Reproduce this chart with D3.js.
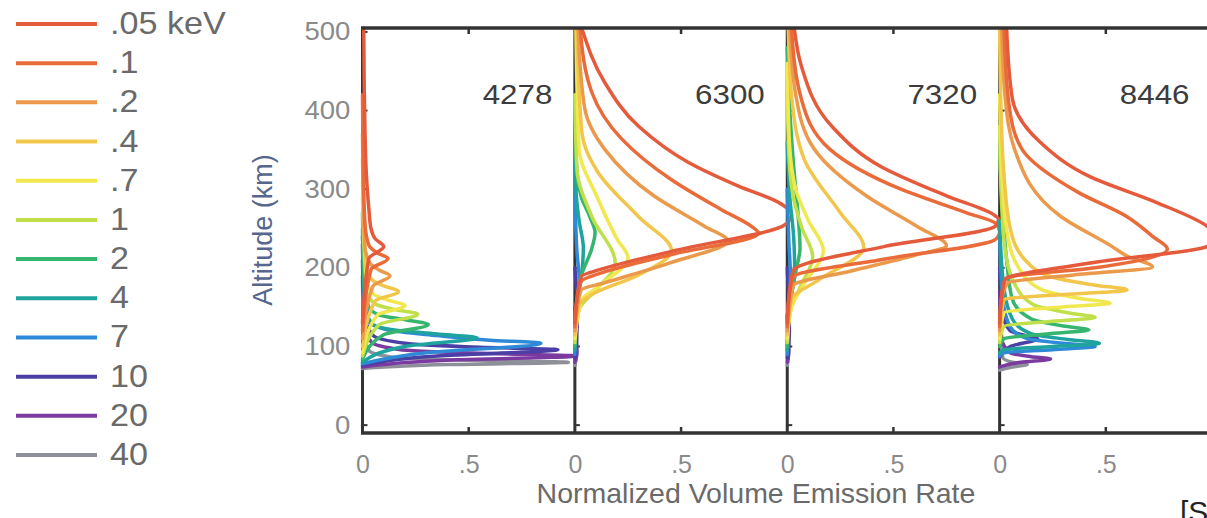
<!DOCTYPE html>
<html>
<head>
<meta charset="utf-8">
<script src="https://cdn.jsdelivr.net/npm/d3@7"></script>
<style>
  html, body { margin: 0; padding: 0; background: #fff; }
  svg { display: block; font-family: "Liberation Sans", Arial, sans-serif; }
</style>
</head>
<body>
<svg id="graphArea" width="1207" height="518"></svg>
<script>
/*
 * emission profiles
 */

// energies (legend labels) and colours
const energies = [".05 keV", ".1", ".2", ".4", ".7", "1", "2", "4", "7", "10", "20", "40"];
const energyColors = ["#e45a3b", "#ea6b3a", "#eb9a4c", "#f1c64b", "#f0e84e", "#bfe04a",
                      "#35b56e", "#1fa39e", "#2e8ad6", "#4b3fa6", "#7b3aa0", "#8e9099"];

// panels (wavelength, A)
const panelNames = ["4278", "6300", "7320", "8446"];

// tick labels
const altTicks = [0, 100, 200, 300, 400, 500];
const rateTicks = [0, 0.5];
const rateTickLabels = ["0", ".5"];

// [normalized rate, altitude km], bottom to top, one curve per energy
const profiles4278 = [
  [[0,130],[0.03,212],[0.1,227],[0.06,237],[0.04,250],[0.03,275],[0.018,320],[0.01,400],[0.006,505]],
  [[0,120],[0.04,198],[0.12,212],[0.07,219],[0.03,229],[0.012,255],[0.003,330],[0,420]],
  [[0,110],[0.05,177],[0.13,190],[0.08,197],[0.035,206],[0.01,230],[0,370]],
  [[0,100],[0.06,158],[0.17,170],[0.1,177],[0.04,186],[0.015,205],[0,340]],
  [[0,92],[0.07,140],[0.2,152],[0.12,159],[0.05,167],[0.02,185],[0,310]],
  [[0,88],[0.08,128],[0.26,141],[0.15,147],[0.06,154],[0.02,170],[0,290]],
  [[0,84],[0.1,115],[0.31,128],[0.2,134],[0.08,140],[0.03,150],[0.01,175],[0,270]],
  [[0,80],[0.2,100],[0.54,111],[0.35,116],[0.15,121],[0.05,128],[0.01,150],[0,250]],
  [[0,78],[0.3,92],[0.84,104],[0.6,108],[0.35,114],[0.12,121],[0.03,132],[0,240]],
  [[0,76],[0.35,88],[0.92,96],[0.55,99],[0.2,104],[0.05,114],[0.01,140],[0,230]],
  [[0,74],[0.35,82],[1.0,88],[0.6,91],[0.18,96],[0.04,106],[0.01,130],[0,210]],
  [[0,72],[0.4,77],[0.97,80],[0.6,82],[0.15,86],[0.03,95],[0.005,120],[0,190]]
];

const profiles6300 = [
  [[0,130],[0.01,160],[0.03,189],[0.12,198],[0.455,221],[0.99,255],[1.02,268],[0.96,283],[0.77,304],[0.535,334],[0.30,380],[0.14,436],[0.033,504]],
  [[0,125],[0.01,160],[0.03,183],[0.13,194],[0.455,217],[0.865,244],[0.83,253],[0.69,274],[0.455,312],[0.22,364],[0.08,423],[0.025,504]],
  [[0,120],[0.01,147],[0.03,172],[0.14,181],[0.455,207],[0.72,234],[0.61,253],[0.375,291],[0.14,351],[0.047,402],[0.015,504]],
  [[0,115],[0.02,153],[0.08,166],[0.30,191],[0.455,222],[0.30,265],[0.11,321],[0.033,372],[0.01,504]],
  [[0,110],[0.03,158],[0.12,178],[0.25,213],[0.2,236],[0.11,287],[0.02,351],[0.005,504]],
  [[0,105],[0.02,147],[0.1,172],[0.19,206],[0.08,265],[0.01,325],[0,420]],
  [[0,100],[0.01,150],[0.03,190],[0.08,225],[0.095,245],[0.07,265],[0.03,290],[0.01,320],[0,400]],
  [[0,95],[0.01,150],[0.035,200],[0.04,225],[0.02,260],[0.005,300],[0,380]],
  [[0,90],[0.01,160],[0.02,185],[0.01,220],[0,300]],
  [[0,85],[0.008,110],[0.012,140],[0,200]],
  [[0,80],[0.01,92],[0.008,110],[0,150]],
  [[0,76],[0.006,85],[0,120]]
];

const profiles7320 = [
  [[0,130],[0.01,170],[0.03,197],[0.455,227],[0.98,253],[0.995,262],[0.97,268],[0.756,291],[0.44,329],[0.21,380],[0.066,457],[0.033,504]],
  [[0,125],[0.01,165],[0.03,189],[0.455,211],[0.98,236],[1.0,246],[0.985,256],[0.845,270],[0.535,300],[0.2,351],[0.066,415],[0.02,504]],
  [[0,120],[0.01,150],[0.03,178],[0.3,196],[0.6,216],[0.75,228],[0.61,253],[0.375,291],[0.127,351],[0.04,420],[0.012,504]],
  [[0,115],[0.02,160],[0.15,185],[0.36,226],[0.25,270],[0.08,338],[0.02,420],[0.005,504]],
  [[0,110],[0.02,150],[0.08,180],[0.17,222],[0.1,260],[0.04,300],[0.01,360],[0,460]],
  [[0,105],[0.015,145],[0.06,175],[0.12,214],[0.07,250],[0.025,295],[0.005,360],[0,440]],
  [[0,100],[0.01,150],[0.04,195],[0.06,225],[0.05,270],[0.03,330],[0.012,400],[0,480]],
  [[0,95],[0.01,150],[0.035,195],[0.03,240],[0.012,290],[0,360]],
  [[0,90],[0.01,160],[0.015,190],[0.008,230],[0,300]],
  [[0,85],[0.01,120],[0,200]],
  [[0,80],[0.008,95],[0,140]],
  [[0,76],[0.005,86],[0,110]]
];

const profiles8446 = [
  [[0,130],[0.01,165],[0.024,185],[0.45,207],[0.976,227],[1.02,240],[0.976,253],[0.74,283],[0.425,316],[0.19,360],[0.06,415],[0.033,504]],
  [[0,125],[0.01,165],[0.03,187],[0.45,200],[0.79,224],[0.72,240],[0.6,265],[0.37,296],[0.105,351],[0.047,402],[0.02,504]],
  [[0,120],[0.01,160],[0.04,181],[0.35,191],[0.72,201],[0.6,215],[0.53,227],[0.29,265],[0.07,351],[0.025,420],[0.01,504]],
  [[0,115],[0.02,160],[0.3,166],[0.6,172],[0.45,178],[0.25,188],[0.12,210],[0.05,250],[0.02,320],[0.005,420],[0,504]],
  [[0,110],[0.02,143],[0.28,150],[0.52,155],[0.38,161],[0.2,172],[0.09,200],[0.035,245],[0.012,310],[0,420]],
  [[0,105],[0.02,126],[0.25,132],[0.45,137],[0.32,143],[0.16,153],[0.07,180],[0.025,225],[0.008,290],[0,380]],
  [[0,100],[0.02,110],[0.22,116],[0.42,121],[0.3,126],[0.15,135],[0.06,160],[0.035,205],[0.015,270],[0,350]],
  [[0,92],[0.02,96],[0.25,100],[0.47,104],[0.32,109],[0.15,116],[0.06,135],[0.02,175],[0,260]],
  [[0,88],[0.02,92],[0.25,96],[0.45,100],[0.3,104],[0.13,110],[0.05,125],[0.015,160],[0,240]],
  [[0,86],[0.05,100],[0.18,110],[0.12,114],[0.05,120],[0.015,140],[0,200]],
  [[0,74],[0.1,80],[0.24,84],[0.15,87],[0.05,92],[0.01,110],[0,170]],
  [[0,70],[0.06,74],[0.13,77],[0.06,80],[0.015,86],[0,130]]
];

const panelProfiles = [profiles4278, profiles6300, profiles7320, profiles8446];

class EmissionChart {

  constructor(svgId) {
    this.svg = d3.select(`#${svgId}`);
    this.top = 28;
    this.bottom = 433;
    this.left = 362.5;
    this.right = 1212;

    // altitude scale (frame runs slightly past 0 and 500)
    this.y = d3.scaleLinear().domain([-10, 505]).range([this.bottom, this.top]);

    // one band per panel, each panel has its own 0..1 scale
    this.panel = d3.scaleBand().domain(panelNames).range([this.left, this.right]);

    this.drawEdges();
    this.drawProfiles();
    this.drawFrame();
    this.drawAxes();
    this.drawLegend();
  }

  /* x scale for a panel */
  xScale(name) {
    let x0 = this.panel(name);
    return d3.scaleLinear().domain([0, 1]).range([x0, x0 + this.panel.bandwidth()]);
  }

  /* stretched text (the scan is a bit wide) */
  addText(g, x, y, str, size, color, anchor) {
    return g.append("text")
      .attr("transform", `translate(${x},${y}) scale(1.12,1)`)
      .attr("text-anchor", anchor)
      .attr("font-size", size)
      .attr("fill", color)
      .text(str);
  }

  /* panel left edges and little y ticks */
  drawEdges() {
    let g = this.svg.append("g").attr("class", "edges");
    panelNames.forEach(name => {
      let x0 = this.panel(name);
      g.append("line")
        .attr("x1", x0).attr("x2", x0)
        .attr("y1", this.top).attr("y2", this.bottom)
        .attr("stroke", "#333").attr("stroke-width", 3);
      g.selectAll(null).data(altTicks).enter().append("line")
        .attr("x1", x0).attr("x2", x0 + 5)
        .attr("y1", d => this.y(d)).attr("y2", d => this.y(d))
        .attr("stroke", "#333").attr("stroke-width", 2);
    });
  }

  /* draw all the profile curves */
  drawProfiles() {
    panelNames.forEach((name, p) => {
      let x = this.xScale(name);
      let line = d3.line()
        .x(d => x(d[0]))
        .y(d => this.y(d[1]))
        .curve(d3.curveMonotoneY);
      let g = this.svg.append("g").attr("class", "panel-" + name);
      // high energies first so the low energy curves sit on top
      let order = d3.range(energies.length).reverse();
      g.selectAll("path")
        .data(order)
        .enter()
        .append("path")
        .attr("d", i => line(panelProfiles[p][i]))
        .attr("fill", "none")
        .attr("stroke", i => energyColors[i])
        .attr("stroke-width", 3.5)
        .attr("stroke-linejoin", "round")
        .attr("stroke-linecap", "round");

      this.addText(g, x(0.73), this.y(408), name, 28, "#3c3c3c", "middle");
    });
  }

  /* top and bottom borders */
  drawFrame() {
    let g = this.svg.append("g").attr("class", "frame");
    [this.top, this.bottom].forEach(yy => {
      g.append("line")
        .attr("x1", this.left - 1.5).attr("x2", 1207)
        .attr("y1", yy).attr("y2", yy)
        .attr("stroke", "#333").attr("stroke-width", 3.5);
    });
    panelNames.forEach(name => {
      let x = this.xScale(name);
      g.append("line")
        .attr("x1", x(0.5)).attr("x2", x(0.5))
        .attr("y1", this.top).attr("y2", this.top + 6)
        .attr("stroke", "#333").attr("stroke-width", 2.5);
      g.append("line")
        .attr("x1", x(0.5)).attr("x2", x(0.5))
        .attr("y1", this.bottom).attr("y2", this.bottom - 6)
        .attr("stroke", "#333").attr("stroke-width", 2.5);
    });
  }

  /* axes, tick labels and titles */
  drawAxes() {
    let yAxis = this.svg.append("g")
      .attr("class", "y-axis")
      .attr("transform", `translate(${this.left},0)`)
      .call(d3.axisLeft(this.y).tickValues(altTicks).tickSize(0).tickPadding(11));
    yAxis.select("path.domain").remove();
    yAxis.selectAll("text")
      .attr("font-size", 25)
      .attr("fill", "#8a8a8a")
      .attr("font-family", "Liberation Sans, Arial, sans-serif")
      .attr("transform", "scale(1.1,1)");

    panelNames.forEach(name => {
      let xAxis = this.svg.append("g")
        .attr("class", "x-axis")
        .attr("transform", `translate(0,${this.bottom})`)
        .call(d3.axisBottom(this.xScale(name))
          .tickValues(rateTicks)
          .tickSize(0)
          .tickPadding(22)
          .tickFormat((d, i) => rateTickLabels[i]));
      xAxis.select("path.domain").remove();
      xAxis.selectAll("text")
        .attr("font-size", 25)
        .attr("fill", "#8a8a8a")
        .attr("font-family", "Liberation Sans, Arial, sans-serif");
    });

    this.svg.append("text")
      .attr("x", 756).attr("y", 503)
      .attr("text-anchor", "middle")
      .attr("font-size", 28.5)
      .attr("fill", "#6a6a6a")
      .text("Normalized Volume Emission Rate");

    this.svg.append("text")
      .attr("transform", "translate(272,230) rotate(-90)")
      .attr("text-anchor", "middle")
      .attr("font-size", 27)
      .attr("fill", "#56668c")
      .text("Altitude (km)");

    this.svg.append("text")
      .attr("x", 1180).attr("y", 522)
      .attr("font-size", 30)
      .attr("fill", "#222")
      .text("[S]");
  }

  /* legend on the left */
  drawLegend() {
    let row = d3.scalePoint().domain(energies).range([24, 455]);
    let g = this.svg.append("g").attr("class", "legend");
    g.selectAll("line")
      .data(energies)
      .enter()
      .append("line")
      .attr("x1", 16).attr("x2", 97)
      .attr("y1", d => row(d)).attr("y2", d => row(d))
      .attr("stroke", (d, i) => energyColors[i])
      .attr("stroke-width", 4);
    energies.forEach(e => {
      this.addText(g, 110, row(e) + 10, e, 30.5, "#6a6a6a", "start");
    });
  }
}

/* main */
let chart = new EmissionChart("graphArea");
</script>
</body>
</html>
